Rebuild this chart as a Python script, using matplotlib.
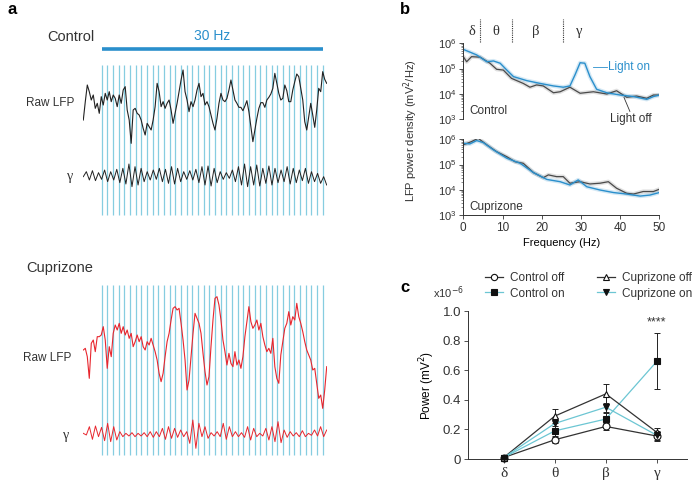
import numpy as np
import matplotlib
matplotlib.use("Agg")
import matplotlib.pyplot as plt
from matplotlib.lines import Line2D

plt.rcParams['font.family'] = ['Liberation Sans', 'DejaVu Sans']
plt.rcParams['text.color'] = '#333333'
plt.rcParams['axes.edgecolor'] = '#333333'
plt.rcParams['xtick.color'] = '#333333'
plt.rcParams['ytick.color'] = '#333333'
GREEK = ['Liberation Serif', 'DejaVu Serif']

# ---------------- data ----------------
# panel a: traces (arbitrary units, evenly sampled over the window)
trace_ms = 1431
stim_freq = 30
n_pulses = 40
stim_onset_ms = 108

ctrl_raw = [-40, 15, 65, 45, 20, 35, -5, 10, -20, 30, 5, 40, 20, 45, 15, 35, 25, 0, 35, 10,
            50, 60, -10, -40, -110, -10, -5, -20, -25, -40, -65, -85, -50, -60, -70, -40, 0, 70, 45, 0,
            15, -5, 10, 20, -10, -50, -20, 10, 45, 80, 110, 45, 20, -15, 15, 0, 20, 50, 70, 30,
            40, 5, 15, 0, -25, -50, -70, -35, 10, 40, 20, 15, 25, 50, 80, 50, 20, 10, -2, -2,
            -12, 2, 18, -15, -60, -105, -70, -35, -5, 12, 12, -2, 20, 28, 38, 55, 100, 70, 40, 20,
            25, 65, 48, 15, 15, 50, 75, 98, 90, 55, 20, -45, -70, -30, 10, -25, -62, -10, 55, 45,
            105, 82, 70]
ctrl_gamma = [0, 15, -10, 18, -12, 12, -8, 20, -15, 15, -10, 22, -18, 25, -22, 38, -30, 30, -25, 25,
              -15, 15, -10, 20, -8, 25, -15, 22, -20, 30, -22, 25, -15, 15, -8, 18, -10, 22, -18, 30,
              -25, 32, -28, 25, -18, 15, -8, 12, -5, 20, -15, 30, -25, 38, -30, 30, -25, 35, -28, 25,
              -20, 32, -25, 25, -18, 20, -15, 30, -22, 25, -18, 20, -12, 25, -20, 15, -15, 10, -20, 0, -25]
cup_raw = [10, 15, -10, -75, 30, 40, 5, 50, 50, 55, 80, 40, -45, 20, -10, 60, 85, 70, 90, 60,
           80, 55, 70, 45, 60, 20, 35, 55, 35, 50, 20, 10, 35, 25, 45, 25, 5, -20, -60, -85,
           -60, -10, 35, 60, 100, 135, 140, 130, 135, 90, 40, -20, -110, -80, -10, 60, 120, 105, 90, 60,
           0, -55, -95, -70, 20, 100, 165, 170, 145, 100, 40, 5, -35, 0, -30, -40, 5, -35, -20, -45,
           -10, 50, 95, 140, 95, 75, 85, 100, 70, 90, 50, 25, 5, 15, 0, 45, -40, -75, -90, -5,
           35, 75, 90, 125, 85, 110, 100, 150, 110, 90, 65, 35, 10, -5, -20, -50, -45, -90, -135, -125,
           -165, -110, -40]
cup_gamma = [5, 0, 25, -13, 27, -5, 23, -17, 35, -20, 25, -15, 10, -5, 5, -3, 7, -5, 5, -3,
             7, -5, 10, -7, 10, -5, 20, -13, 25, -10, 20, -7, 15, -5, 10, -25, 45, -40, 35, -5,
             25, -10, 7, -3, 10, -5, 35, -13, 25, -5, 10, -5, 7, -7, 25, -15, 20, -5, 5, -3,
             20, -15, 25, -20, 40, -23, 15, -7, 10, -3, 7, -5, 13, -5, 5, -1, 15, -3, 25, -5, 15]

# panel b: PSD, log10(mV^2/Hz)
ctrl_on_f = [0, 3.4, 6.0, 7.7, 9.4, 11.1, 12.8, 16.2, 19.6, 23.0, 25.5, 27.2, 28.5, 29.8, 31.0, 32.3,
             34.0, 36.6, 40.0, 43.4, 46.8, 48.5, 50]
ctrl_on_p = [5.76, 5.54, 5.27, 5.30, 5.21, 4.94, 4.68, 4.52, 4.41, 4.31, 4.26, 4.31, 4.75, 5.23, 5.21, 4.68,
             4.18, 4.04, 3.95, 3.89, 3.78, 3.89, 3.95]
ctrl_off_f = [0, 0.85, 2.1, 4.3, 6.8, 8.5, 10.2, 12.3, 15.3, 17.0, 18.7, 20.4, 23.0, 24.7, 27.2, 29.8,
              33.2, 36.6, 39.1, 41.7, 44.2, 46.8, 48.5, 50]
ctrl_off_p = [5.47, 5.27, 5.47, 5.45, 5.21, 4.97, 4.94, 4.61, 4.41, 4.26, 4.35, 4.31, 4.04, 4.08, 4.26, 4.02,
              4.08, 3.99, 4.12, 3.86, 3.91, 3.82, 3.95, 3.95]
cup_on_f = [0, 1.7, 3.4, 5.1, 7.7, 11.1, 14.5, 17.9, 21.3, 24.7, 27.2, 29.3, 31.5, 34.9, 38.3, 41.7,
            45.1, 47.6, 50]
cup_on_p = [5.84, 5.82, 5.95, 5.87, 5.58, 5.25, 5.05, 4.68, 4.41, 4.32, 4.19, 4.39, 4.12, 3.99, 3.89, 3.83,
            3.75, 3.79, 3.89]
cup_off_f = [0, 2.1, 3.8, 6.0, 8.5, 11.1, 13.2, 15.3, 17.9, 20.4, 21.7, 23.8, 25.5, 27.2, 29.8, 32.3,
             34.9, 37.0, 39.1, 41.7, 43.4, 45.9, 48.5, 50]
cup_off_p = [5.78, 5.91, 6.04, 5.78, 5.51, 5.31, 5.11, 5.05, 4.68, 4.48, 4.59, 4.52, 4.52, 4.26, 4.32, 4.23,
             4.26, 4.32, 4.06, 3.86, 3.83, 3.93, 3.93, 4.02]
band_edges = [4.3, 12.5, 25.5]
band_names = ['δ', 'θ', 'β', 'γ']
band_label_f = [2.2, 8.4, 18.4, 29.6]

# panel c: band power (x10^-6 mV^2)
bands = ['δ', 'θ', 'β', 'γ']
ctrl_off = [0.01, 0.13, 0.22, 0.155]
ctrl_off_err = [0.005, 0.02, 0.025, 0.03]
ctrl_on = [0.01, 0.19, 0.27, 0.66]
ctrl_on_err = [0.005, 0.035, 0.04, 0.19]
cup_off = [0.01, 0.29, 0.44, 0.18]
cup_off_err = [0.005, 0.05, 0.065, 0.03]
cup_on = [0.01, 0.24, 0.35, 0.16]
cup_on_err = [0.005, 0.04, 0.03, 0.03]

# ---------------- figure ----------------
W, H = 694, 482
fig = plt.figure(figsize=(W / 100, H / 100), dpi=100)


def px_axes(x0, y0, x1, y1):
    return fig.add_axes([x0 / W, 1 - y1 / H, (x1 - x0) / W, (y1 - y0) / H])


STIM_C = '#86cde0'
BLUE = '#2a8fcc'
stim_t = stim_onset_ms + np.arange(n_pulses) * 1000 / stim_freq


def trace_panel(ax, raw, gamma, color, gamma_off, stim_top, stim_bot):
    ax.vlines(stim_t, stim_bot, stim_top, color=STIM_C, lw=0.9, zorder=1)
    t_raw = np.linspace(0, trace_ms, len(raw))
    t_gam = np.linspace(0, trace_ms, len(gamma))
    ax.plot(t_raw, raw, color=color, lw=0.8, zorder=2)
    ax.plot(t_gam, np.array(gamma) + gamma_off, color=color, lw=0.7, zorder=2)
    ax.set_xlim(0, trace_ms)
    ax.axis('off')


# panel a - control
axa1 = px_axes(83.3, 30, 326.7, 220)
axa1.set_ylim(-340, 230)
trace_panel(axa1, ctrl_raw, ctrl_gamma, '#222222', -210, 125, -325)
axa1.plot([stim_t[0], stim_t[-1]], [173, 173], color=BLUE, lw=2.6, solid_capstyle='butt', clip_on=False)
axa1.text((stim_t[0] + stim_t[-1]) / 2, 212, '30 Hz', color=BLUE, ha='center', va='center', fontsize=10)
axa1.text(68, 210, 'Control', ha='right', va='center', fontsize=10.5, clip_on=False)
axa1.text(-52, 12, 'Raw LFP', ha='right', va='center', fontsize=8.5)
axa1.text(-60, -210, 'γ', ha='right', va='center', fontsize=10, family=GREEK)

# panel a - cuprizone
axa2 = px_axes(83.3, 260, 326.7, 470)
axa2.set_ylim(-350, 280)
trace_panel(axa2, cup_raw, cup_gamma, '#e8262e', -245, 205, -305)
axa2.text(-337, 256, 'Cuprizone', ha='left', va='center', fontsize=10.5)
axa2.text(-70, -15, 'Raw LFP', ha='right', va='center', fontsize=8.5)
axa2.text(-85, -245, 'γ', ha='right', va='center', fontsize=10, family=GREEK)

# panel b
def psd_axes(ax, f_on, p_on, f_off, p_off, name):
    ax.plot(f_off, 10 ** np.array(p_off), color='#999999', lw=3, alpha=0.3, solid_capstyle='round')
    ax.plot(f_on, 10 ** np.array(p_on), color=BLUE, lw=3, alpha=0.2, solid_capstyle='round')
    ax.plot(f_off, 10 ** np.array(p_off), color='#4a4a4a', lw=0.9)
    ax.plot(f_on, 10 ** np.array(p_on), color=BLUE, lw=1.0)
    ax.set_yscale('log')
    ax.set_ylim(1e3, 1e6)
    ax.set_xlim(0, 50)
    ax.set_yticks([1e3, 1e4, 1e5, 1e6])
    ax.tick_params(axis='y', labelsize=8, length=3, width=0.6, pad=2)
    ax.tick_params(axis='y', which='minor', length=1.5, width=0.4)
    for s in ['top', 'right']:
        ax.spines[s].set_visible(False)
    ax.spines['left'].set_linewidth(0.7)
    ax.text(1.5, 10 ** 3.3, name, fontsize=8.5, va='center', ha='left')


axb1 = px_axes(463.3, 43.3, 659.3, 119)
psd_axes(axb1, ctrl_on_f, ctrl_on_p, ctrl_off_f, ctrl_off_p, 'Control')
axb1.spines['bottom'].set_visible(False)
axb1.set_xticks([])
axb1.plot([33.2, 36.6], [10 ** 5.05, 10 ** 5.05], color=BLUE, lw=0.6)
axb1.text(36.9, 10 ** 5.05, 'Light on', color=BLUE, fontsize=8.5, va='center', ha='left')
axb1.plot([41.0, 42.5], [10 ** 3.85, 10 ** 3.3], color='#333333', lw=0.6)
axb1.text(37.3, 10 ** 3.0, 'Light off', fontsize=8.5, va='center', ha='left')
for e in band_edges:
    axb1.plot([e, e], [10 ** 6.05, 10 ** 6.95], color='#333333', lw=0.8, ls=(0, (1, 1)), clip_on=False)
for name, f in zip(band_names, band_label_f):
    axb1.text(f, 10 ** 6.45, name, fontsize=10.5, ha='center', va='center', family=GREEK)

axb2 = px_axes(463.3, 139.3, 659.3, 215)
psd_axes(axb2, cup_on_f, cup_on_p, cup_off_f, cup_off_p, 'Cuprizone')
axb2.set_xticks([0, 10, 20, 30, 40, 50])
axb2.tick_params(axis='x', labelsize=8.5, length=3, width=0.6, pad=2)
axb2.spines['bottom'].set_linewidth(0.7)
axb2.set_xlabel('Frequency (Hz)', fontsize=8, labelpad=3)
fig.text(411 / W, 1 - 131 / H, 'LFP power density (mV$^2$/Hz)', rotation=90,
         ha='center', va='center', fontsize=8)

# panel c
axc = px_axes(468, 311, 687.5, 459)
x = np.arange(len(bands))
OFF_C = '#333333'
ON_C = '#6cc6d3'
series = [
    (ctrl_off, ctrl_off_err, OFF_C, 'o', 'white', 'Control off'),
    (ctrl_on, ctrl_on_err, ON_C, 's', '#111111', 'Control on'),
    (cup_off, cup_off_err, OFF_C, '^', 'white', 'Cuprizone off'),
    (cup_on, cup_on_err, ON_C, 'v', '#111111', 'Cuprizone on'),
]
handles = []
for vals, err, lc, mk, mfc, lab in series:
    axc.errorbar(x, vals, yerr=err, fmt='none', ecolor='#222222', elinewidth=0.7,
                 capsize=2.5, capthick=0.7, zorder=3, clip_on=False)
    axc.plot(x, vals, color=lc, lw=0.9, zorder=2, clip_on=False)
    axc.plot(x, vals, ls='none', marker=mk, ms=5, mfc=mfc, mec='#111111', mew=0.8, zorder=4, clip_on=False)
    handles.append(Line2D([], [], color=lc, lw=0.9, marker=mk, ms=4.5, mfc=mfc, mec='#111111', mew=0.8, label=lab))
axc.set_xlim(-0.7, 3.6)
axc.set_ylim(0, 1.0)
axc.set_yticks([0, 0.2, 0.4, 0.6, 0.8, 1.0])
axc.set_yticklabels(['0', '0.2', '0.4', '0.6', '0.8', '1.0'])
axc.set_xticks(x)
axc.set_xticklabels(bands, family=GREEK, fontsize=11)
axc.tick_params(axis='y', labelsize=9.5, length=3, width=0.6, pad=2)
axc.tick_params(axis='x', length=3, width=0.6, pad=3)
for s in ['top', 'right']:
    axc.spines[s].set_visible(False)
for s in ['left', 'bottom']:
    axc.spines[s].set_linewidth(0.7)
axc.set_ylabel('Power (mV$^2$)', fontsize=8.5, labelpad=4)
axc.text(3, 0.92, '****', ha='center', va='center', fontsize=9)
fig.text(433 / W, 1 - 293 / H, 'x10$^{-6}$', ha='left', va='center', fontsize=8)
axc.legend(handles=handles, ncol=2, loc='upper left', frameon=False, fontsize=8.5,
           bbox_to_anchor=(485 / W, 1 - 272 / H), bbox_transform=fig.transFigure,
           handlelength=1.5, handletextpad=0.6, columnspacing=2.8, labelspacing=0.3,
           borderaxespad=0, borderpad=0)

# panel letters
for lab, (px, py) in zip('abc', [(8, 10), (400, 10), (400, 287)]):
    fig.text(px / W, 1 - py / H, lab, fontsize=12, fontweight='bold', ha='left', va='center',
             color='black')

fig.savefig('out.png', dpi=100)
